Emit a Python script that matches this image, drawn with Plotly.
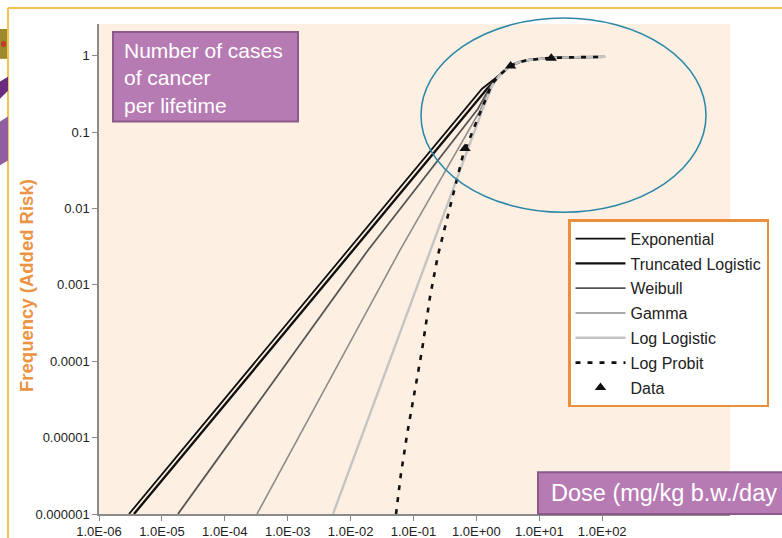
import plotly.graph_objects as go

# ---------------- data ----------------
x_tickvals = [1e-6, 1e-5, 1e-4, 1e-3, 1e-2, 1e-1, 1e0, 1e1, 1e2]
x_ticktext = ["1.0E-06", "1.0E-05", "1.0E-04", "1.0E-03", "1.0E-02",
              "1.0E-01", "1.0E+00", "1.0E+01", "1.0E+02"]
y_tickvals = [1e-6, 1e-5, 1e-4, 1e-3, 1e-2, 1e-1, 1]
y_ticktext = ["0.000001", "0.00001", "0.0001", "0.001", "0.01", "0.1", "1"]

exp_dose = [3.0e-6, 1.23, 2.37, 3.42, 4.93, 7.1, 10.3, 15.3, 37, 111]
exp_risk = [1e-6, 0.371, 0.565, 0.74, 0.834, 0.89, 0.914, 0.94, 0.96, 0.97]

tlog_dose = [3.6e-6, 1.48, 2.37, 3.42, 4.93, 7.1, 10.3, 15.3, 37, 111]
tlog_risk = [1e-6, 0.371, 0.565, 0.74, 0.834, 0.89, 0.914, 0.94, 0.96, 0.97]

weib_dose = [1.8e-5, 1.89e-2, 1.06, 1.70, 2.37, 3.42, 4.93, 7.1, 10.3, 15.3, 37, 111]
weib_risk = [1e-6, 2.85e-3, 0.203, 0.41, 0.565, 0.74, 0.834, 0.89, 0.914, 0.94, 0.96, 0.97]

gam_dose = [3.25e-4, 6.1e-2, 1.14, 1.75, 2.37, 3.42, 4.93, 7.1, 10.3, 15.3, 37, 111]
gam_risk = [1e-6, 2.85e-3, 0.191, 0.41, 0.565, 0.74, 0.834, 0.89, 0.914, 0.94, 0.96, 0.97]

llog_dose = [5.25e-3, 0.183, 1.23, 1.8, 2.37, 3.42, 4.93, 7.1, 10.3, 15.3, 37, 111]
llog_risk = [1e-6, 2.85e-3, 0.191, 0.41, 0.565, 0.74, 0.834, 0.89, 0.914, 0.94, 0.96, 0.97]

lprob_dose = [5.27e-2, 6.3e-2, 7.9e-2, 9.8e-2, 0.137, 0.183, 0.245, 0.38, 0.61,
              1.02, 1.77, 2.37, 3.42, 4.93, 7.1, 10.3, 15.3, 37, 111]
lprob_risk = [1e-6, 3.3e-6, 1.1e-5, 3.16e-5, 1.42e-4, 6.97e-4, 2.46e-3, 1.04e-2, 0.0496,
              0.142, 0.43, 0.565, 0.74, 0.834, 0.89, 0.914, 0.94, 0.96, 0.97]

data_dose = [0.66, 3.5, 15.5]
data_risk = [0.061, 0.735, 0.93]

# ---------------- layout helpers ----------------
# The photographed page comes out slightly squeezed vertically, so the figure
# is made a little taller and every screen-y position is divided by S.
S = 0.977
W = 782
H = round(538 / S)


def fy(screen_y):
    return screen_y / S


ML, MT = 99, fy(23)
PLOT_R, PLOT_B = 730, fy(515)
MR, MB = W - PLOT_R, H - PLOT_B
PW, PH = PLOT_R - ML, PLOT_B - MT
X_PER_DEC = 62.9          # screen px per decade on x
Y_PER_DEC = 76.67 / S     # figure px per decade on y


def px(x):
    return (x - ML) / PW


def py(y):
    return (PLOT_B - fy(y)) / PH


FONT = "Liberation Sans, Arial, sans-serif"

fig = go.Figure()

series = [
    ("Exponential", exp_dose, exp_risk, dict(color="#111111", width=1.8)),
    ("Truncated Logistic", tlog_dose, tlog_risk, dict(color="#111111", width=2.4)),
    ("Weibull", weib_dose, weib_risk, dict(color="#555555", width=1.8)),
    ("Gamma", gam_dose, gam_risk, dict(color="#8c8c8c", width=1.6)),
    ("Log Logistic", llog_dose, llog_risk, dict(color="#c4c4c4", width=2.4)),
    ("Log Probit", lprob_dose, lprob_risk, dict(color="#111111", width=2.6, dash="5px,7px")),
]
for i, (name, xs, ys, line) in enumerate(series):
    fig.add_trace(go.Scatter(x=xs, y=ys, mode="lines", name=name, line=line,
                             legendgroup=f"g{i}"))

fig.add_trace(go.Scatter(x=data_dose, y=data_risk, mode="markers", name="Data",
                         marker=dict(symbol="triangle-up", size=10, color="#111111"),
                         legendgroup="g9"))

shapes = [
    # outer slide frame
    dict(type="line", xref="paper", yref="paper", x0=px(8), x1=px(800), y0=py(7), y1=py(7),
         line=dict(color="#F2C14E", width=2)),
    dict(type="line", xref="paper", yref="paper", x0=px(8), x1=px(8), y0=py(7), y1=py(560),
         line=dict(color="#F2C14E", width=2)),
    # clipped decorations at the left edge
    dict(type="rect", xref="paper", yref="paper", x0=px(-2), x1=px(7), y0=py(28), y1=py(58),
         fillcolor="#9C8A2A", line=dict(width=0)),
    dict(type="circle", xref="paper", yref="paper", x0=px(1), x1=px(6), y0=py(40), y1=py(46),
         fillcolor="#C0392B", line=dict(width=0)),
    dict(type="path", xref="paper", yref="paper",
         path=f"M {px(-2)},{py(82)} L {px(8)},{py(76)} L {px(8)},{py(90)} L {px(-2)},{py(100)} Z",
         fillcolor="#6B2C80", line=dict(width=0)),
    dict(type="path", xref="paper", yref="paper",
         path=f"M {px(-2)},{py(122)} L {px(8)},{py(116)} L {px(8)},{py(160)} L {px(-2)},{py(166)} Z",
         fillcolor="#8F5FA0", line=dict(width=0)),
    # ellipse highlight
    dict(type="circle", xref="paper", yref="paper", x0=px(421), x1=px(706), y0=py(17), y1=py(212),
         line=dict(color="#2A86A8", width=1.5)),
    # purple label boxes
    dict(type="rect", xref="paper", yref="paper", x0=px(113), x1=px(298), y0=py(31), y1=py(121),
         fillcolor="#B77BB4", line=dict(color="#8C5A8A", width=2)),
    dict(type="rect", xref="paper", yref="paper", x0=px(538), x1=px(800), y0=py(473), y1=py(515),
         fillcolor="#B77BB4", line=dict(color="#8C5A8A", width=2)),
]

annotations = [
    dict(text="Number of cases<br>of cancer<br>per lifetime", xref="paper", yref="paper",
         x=px(122), y=py(36), xanchor="left", yanchor="top", align="left", showarrow=False,
         font=dict(family=FONT, size=21, color="white")),
    dict(text="Dose (mg/kg b.w./day", xref="paper", yref="paper",
         x=px(549), y=py(494), xanchor="left", yanchor="middle", align="left", showarrow=False,
         font=dict(family=FONT, size=23.5, color="white")),
    dict(text="<b>Frequency (Added Risk)</b>", xref="paper", yref="paper",
         x=px(27), y=py(286), xanchor="center", yanchor="middle", textangle=-90, showarrow=False,
         font=dict(family=FONT, size=18.5, color="#EC9444")),
]

fig.update_layout(
    width=W, height=H,
    margin=dict(l=ML, r=MR, t=MT, b=MB, pad=0),
    paper_bgcolor="white",
    plot_bgcolor="#FDF0E2",
    font=dict(family=FONT, size=13, color="#222222"),
    showlegend=True,
    legend=dict(x=px(568), y=py(219), xanchor="left", yanchor="top",
                bgcolor="white", bordercolor="#E8913A", borderwidth=2.5,
                font=dict(family=FONT, size=16, color="#222222"),
                tracegroupgap=1, itemwidth=50),
    shapes=shapes,
    annotations=annotations,
    xaxis=dict(type="log", range=[-6, -6 + PW / X_PER_DEC], tickvals=x_tickvals, ticktext=x_ticktext,
               showgrid=False, zeroline=False, showline=True, linecolor="#8a8a8a", linewidth=1.5,
               ticks="outside", ticklen=5, tickcolor="#8a8a8a",
               tickfont=dict(family=FONT, size=13, color="#222222")),
    yaxis=dict(type="log", range=[-6, -6 + PH / Y_PER_DEC], tickvals=y_tickvals, ticktext=y_ticktext,
               showgrid=False, zeroline=False, showline=True, linecolor="#8a8a8a", linewidth=1.5,
               ticks="outside", ticklen=5, tickcolor="#8a8a8a",
               tickfont=dict(family=FONT, size=13, color="#222222")),
)

fig.write_html("out.html", config={"displayModeBar": False},
               post_script="document.body.style.margin='0';document.body.style.overflow='hidden';")
